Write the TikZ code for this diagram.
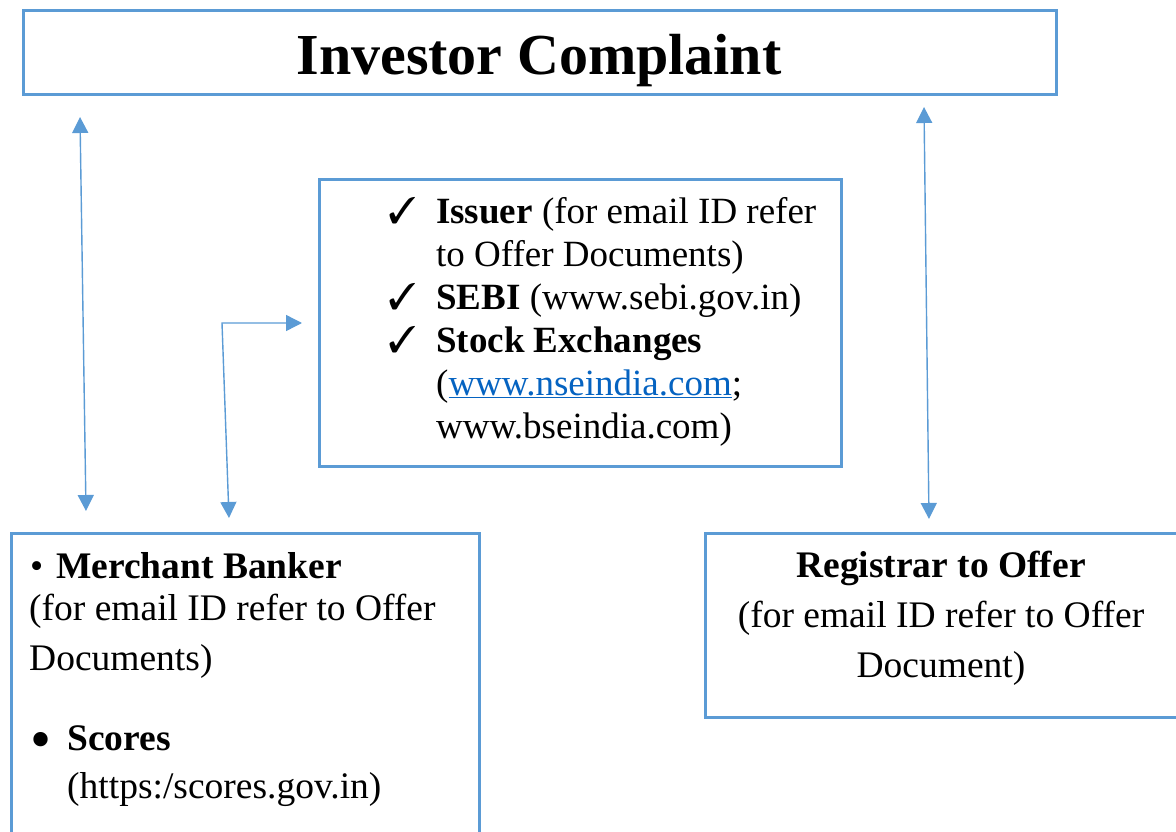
\documentclass[tikz,border=0pt]{standalone}
\usepackage{fontspec}
\setmainfont{Liberation Serif}
\usepackage{pifont}
\usetikzlibrary{arrows.meta, positioning}
\definecolor{boxblue}{HTML}{5B9BD5}
\definecolor{linkblue}{HTML}{0563C1}
\tikzset{
  panel/.style = {draw=boxblue, line width=2.6pt, anchor=north west, inner sep=0pt},
  txt/.style = {inner sep=0pt, align=left, anchor=base west},
  link/.style = {draw=boxblue, line width=1.4pt,
    {Triangle[length=16pt, width=16pt]}-{Triangle[length=16pt, width=16pt]}}
}
\newcommand{\tick}{\llap{\ding{51}\hspace{20pt}}}

\begin{document}
\begin{tikzpicture}[x=1pt, y=-1pt]
  \useasboundingbox (0,0) rectangle (1176,832);
  % boxes
  \node[panel, minimum width=1033pt, minimum height=84pt] (top) at (22,9) {};
  \node[panel, minimum width=522pt, minimum height=287pt] (mid) at (318,178) {};
  \node[panel, minimum width=468pt, minimum height=320pt] (mb) at (10,532) {};
  \node[panel, minimum width=490pt, minimum height=184pt] (rta) at (704,532) {};
  % texts (base = last line)
  \node[inner sep=0pt, anchor=base, font=\fontsize{58}{70}\selectfont\bfseries] (title) at (539,75) {Investor Complaint};
  \node[txt, font=\fontsize{37}{43}\selectfont] (midtext) at (436,438)
    {\tick\textbf{Issuer} (for email ID refer\\
     to Offer Documents)\\
     \tick\textbf{SEBI} (www.sebi.gov.in)\\
     \tick\textbf{Stock Exchanges}\\
     ({\color{linkblue}\underline{www.nseindia.com}};\\
     www.bseindia.com)};
  \node[txt, font=\fontsize{37.5}{50}\selectfont] (mbtext) at (29,670)
    {\makebox[27pt][l]{\hspace{1pt}\textbullet}\textbf{Merchant Banker}\\[-8pt]
     (for email ID refer to Offer\\
     Documents)};
  \node[txt, font=\fontsize{37.5}{48}\selectfont] (sctext) at (29,798)
    {\makebox[38pt][l]{\hspace{1pt}\raisebox{-9pt}{\scalebox{1.6}{\textbullet}}}\textbf{Scores}\\
     \hspace{38pt}(https:/scores.gov.in)};
  \node[inner sep=0pt, align=center, anchor=base, font=\fontsize{37.5}{50}\selectfont] (rtatext) at (941,677)
    {\textbf{Registrar to Offer}\\
     (for email ID refer to Offer\\
     Document)};
  % arrow ends
  \coordinate (lt) at (80,117);
  \coordinate (lb) at (86,511);
  \coordinate (rt) at (924,107);
  \coordinate (rb) at (929,519);
  \coordinate (ea) at (302,323);
  \coordinate (ec) at (222,323);
  \coordinate (eb) at (229,518);
  % arrows
  \draw[link] (lt) -- (lb);
  \draw[link] (rt) -- (rb);
  \draw[link] (ea) -- (ec) -- (eb);
\end{tikzpicture}
\end{document}
